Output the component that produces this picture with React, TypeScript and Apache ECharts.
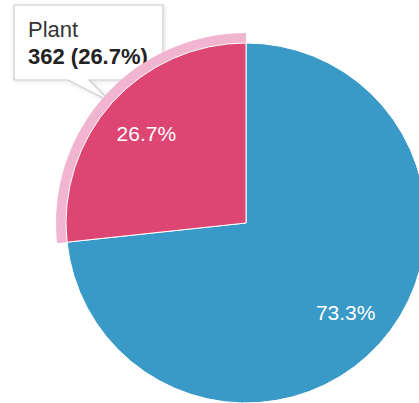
import React, { useEffect, useRef } from "react";
import * as echarts from "echarts";

const categories = ["Animal", "Plant"];
const values = [994, 362];
const colors = ["#3999c7", "#dd4673"];
const haloColors = ["rgba(0,0,0,0)", "#f1b5cf"];
const hoveredIndex = 1;

export default function App() {
  const ref = useRef<HTMLDivElement>(null);
  useEffect(() => {
    document.body.style.margin = "0";
    const chart = echarts.init(ref.current!, null, { renderer: "svg" });
    const total = values.reduce((a, b) => a + b, 0);
    const pct = (v: number) => ((v / total) * 100).toFixed(1) + "%";
    const data = categories.map((c, i) => ({
      name: c,
      value: values[i],
      itemStyle: { color: colors[i] },
    }));
    const center = [246, 223];
    chart.setOption({
      animation: false,
      series: [
        {
          type: "pie",
          center,
          radius: [180, 190],
          startAngle: 90,
          silent: true,
          label: { show: false },
          labelLine: { show: false },
          itemStyle: { borderWidth: 0 },
          data: categories.map((c, i) => ({
            name: c,
            value: values[i],
            itemStyle: { color: haloColors[i] },
          })),
        },
        {
          type: "pie",
          center,
          radius: [0, 180],
          startAngle: 90,
          silent: true,
          label: { show: false },
          labelLine: { show: false },
          itemStyle: { borderColor: "#ffffff", borderWidth: 1 },
          data,
        },
        {
          type: "pie",
          center,
          radius: [82, 180],
          startAngle: 90,
          silent: true,
          itemStyle: { color: "rgba(0,0,0,0)", borderWidth: 0 },
          label: {
            show: true,
            position: "inside",
            color: "#ffffff",
            fontFamily: "'Liberation Sans', Arial, sans-serif",
            fontSize: 21,
            formatter: (p: any) => pct(p.value),
          },
          labelLine: { show: false },
          data: categories.map((c, i) => ({ name: c, value: values[i] })),
        },
      ],
      graphic: [
        {
          type: "group",
          z: 100,
          children: [
            {
              type: "polygon",
              shape: {
                points: [
                  [14, 5],
                  [163, 5],
                  [163, 80],
                  [89, 80],
                  [111, 102],
                  [68, 80],
                  [14, 80],
                ],
              },
              style: {
                fill: "rgba(255,255,255,0.97)",
                stroke: "#cccccc",
                lineWidth: 1.2,
                shadowColor: "rgba(0,0,0,0.12)",
                shadowBlur: 4,
                shadowOffsetX: 1,
                shadowOffsetY: 1,
              },
            },
            {
              type: "text",
              x: 28,
              y: 29.5,
              style: {
                text: categories[hoveredIndex],
                fill: "#333333",
                fontFamily: "'Liberation Sans', Arial, sans-serif",
                fontSize: 22,
                verticalAlign: "middle",
              },
            },
            {
              type: "text",
              x: 28,
              y: 56.5,
              style: {
                text: `${values[hoveredIndex]} (${pct(values[hoveredIndex])})`,
                fill: "#222222",
                fontFamily: "'Liberation Sans', Arial, sans-serif",
                fontSize: 22,
                fontWeight: "bold",
                verticalAlign: "middle",
              },
            },
          ],
        },
      ],
    });
    return () => chart.dispose();
  }, []);
  return <div ref={ref} style={{ width: 419, height: 403 }} />;
}
